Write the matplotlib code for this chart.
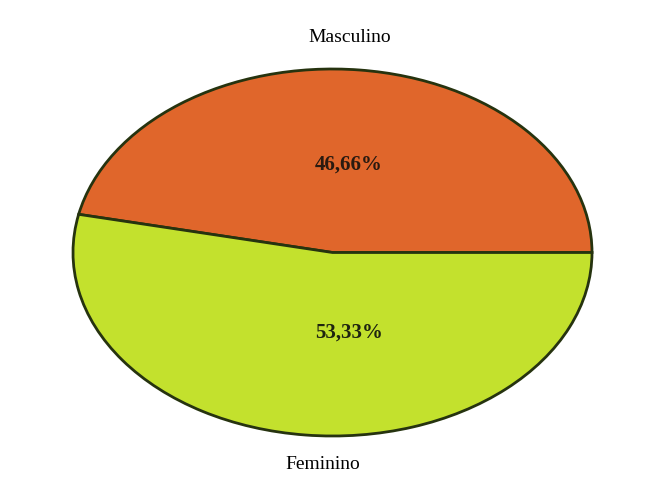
import matplotlib.pyplot as plt

# data
categories = ['Masculino', 'Feminino']
values = [46.66, 53.33]
pct_labels = ['46,66%', '53,33%']
colors = ['#E0662B', '#C3E12D']

plt.rcParams['font.family'] = ['Liberation Serif', 'DejaVu Serif']

fig = plt.figure(figsize=(6.56, 4.86), dpi=100)
# axes stretched so the pie becomes an ellipse like the original
ax = fig.add_axes([73 / 656, 50 / 486, 519 / 656, 367 / 486])
wedges, _ = ax.pie(values, colors=colors, startangle=0, counterclock=True,
                   wedgeprops=dict(edgecolor='#26330F', linewidth=2))
ax.set_aspect('auto')
ax.set_xlim(-1, 1)
ax.set_ylim(-1, 1)
ax.axis('off')

# category labels above/below
ax.text(0.067, 1.169, categories[0], ha='center', va='center', fontsize=14, clip_on=False)
ax.text(-0.037, -1.158, categories[1], ha='center', va='center', fontsize=14, clip_on=False)

# percentage labels inside the slices
ax.text(0.064, 0.477, pct_labels[0], ha='center', va='center', fontsize=15,
        fontweight='bold', color='#2a1a10')
ax.text(0.064, -0.439, pct_labels[1], ha='center', va='center', fontsize=15,
        fontweight='bold', color='#1e2410')

fig.savefig('out.png', dpi=100)
